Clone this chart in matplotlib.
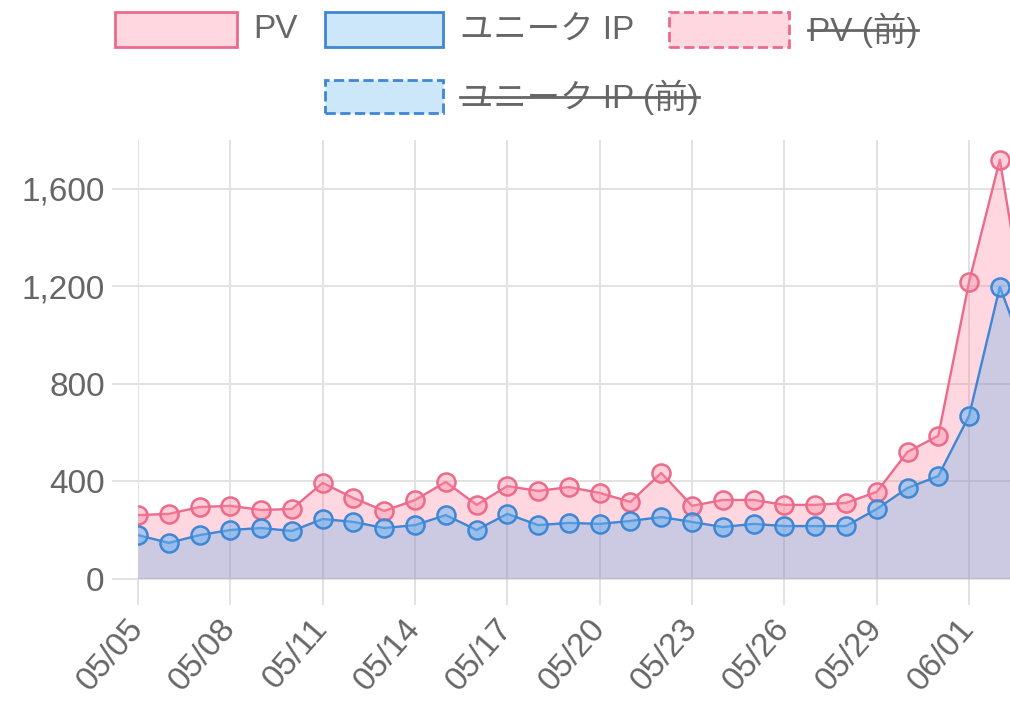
import numpy as np
import matplotlib
matplotlib.use("Agg")
import matplotlib.pyplot as plt
from matplotlib.patches import Rectangle
from matplotlib.lines import Line2D

# categories (05/05 .. 06/03)
dates = ["05/05", "05/06", "05/07", "05/08", "05/09", "05/10", "05/11", "05/12",
         "05/13", "05/14", "05/15", "05/16", "05/17", "05/18", "05/19", "05/20",
         "05/21", "05/22", "05/23", "05/24", "05/25", "05/26", "05/27", "05/28",
         "05/29", "05/30", "05/31", "06/01", "06/02", "06/03"]

# series values
pv = [262, 267, 295, 300, 283, 287, 394, 332, 279, 324, 398, 304, 381, 361, 377,
      353, 316, 435, 300, 324, 324, 304, 304, 312, 357, 521, 587, 1218, 1719, 950]
unique_ip = [180, 148, 180, 201, 209, 197, 246, 234, 209, 221, 262, 201, 267, 221,
             230, 226, 238, 254, 234, 213, 226, 217, 217, 217, 287, 373, 422, 669,
             1198, 860]

y_ticks = [0, 400, 800, 1200, 1600]
legend_labels = ["PV", "ユニーク IP", "PV (前)", "ユニーク IP (前)"]

W, H = 1010, 702
FONT = ["Liberation Sans", "Noto Sans CJK JP", "DejaVu Sans"]
plt.rcParams["font.family"] = FONT

pink = (255 / 255, 99 / 255, 132 / 255)
pink_line = "#ec6a8a"
blue = (54 / 255, 162 / 255, 235 / 255)
blue_line = "#3f86d4"
text_gray = "#666666"


def px(x, y):
    # pixel (from top-left) -> figure fraction
    return x / W, 1 - y / H


fig = plt.figure(figsize=(W / 100, H / 100), dpi=100)

# plot area: 05/05 at x=138, y=0 at 579, y=1800 at 140; extends past right edge
x0, dx = 138, 30.78
n = len(dates)
left, bottom = px(x0, 579)
ax_w = (n - 1) * dx / W
ax_h = (579 - 140) / H
ax = fig.add_axes([left, bottom, ax_w, ax_h])

x = np.arange(n)
ax.fill_between(x, pv, 0, color=pink, alpha=0.25, lw=0, zorder=1)
ax.fill_between(x, unique_ip, 0, color=blue, alpha=0.25, lw=0, zorder=2)
ax.plot(x, pv, color=pink_line, lw=1.7, marker="o", ms=13, mew=1.8,
        mfc=(1, 0.55, 0.65, 0.4), mec=pink_line, zorder=4)
ax.plot(x, unique_ip, color=blue_line, lw=1.7, marker="o", ms=13, mew=1.8,
        mfc=(0.4, 0.7, 0.95, 0.5), mec=blue_line, zorder=5)

ax.set_xlim(0, n - 1)
ax.set_ylim(0, 1800)
ax.set_xticks(x[::3])
ax.set_xticklabels(dates[::3], rotation=49, ha="right", va="center",
                   rotation_mode="anchor")
ax.set_yticks(y_ticks)
ax.set_yticklabels([f"{v:,}" for v in y_ticks])

ax.grid(True, color="#e2e2e2", lw=1.4, zorder=0)
ax.set_axisbelow(True)
for s in ax.spines.values():
    s.set_visible(False)
ax.axhline(0, color="#bdbdc4", lw=1.6, zorder=3)
ax.tick_params(axis="both", colors="#e2e2e2", labelcolor=text_gray,
               labelsize=24, length=19, width=1.4)
ax.tick_params(axis="y", pad=5)
ax.tick_params(axis="x", pad=13)
ax.patch.set_alpha(0)

# legend drawn by hand, chart.js style
entries = [
    (legend_labels[0], (115, 12, 122, 35), pink, pink_line, "-", False, 253, 30),
    (legend_labels[1], (325, 12, 118, 35), blue, blue_line, "-", False, 460, 30),
    (legend_labels[2], (669, 12, 120, 35), pink, pink_line, "--", True, 808, 30),
    (legend_labels[3], (325, 80, 118, 33), blue, blue_line, "--", True, 460, 97),
]
renderer = fig.canvas.get_renderer()
for label, (bx, by, bw, bh), fc, ec, ls, hidden, tx, ty in entries:
    fx, fy = px(bx, by + bh)
    fig.patches.append(Rectangle((fx, fy), bw / W, bh / H, transform=fig.transFigure,
                                 facecolor=(*fc, 0.25), edgecolor=ec, lw=2,
                                 linestyle=ls, figure=fig))
    t = fig.text(*px(tx, ty), label, fontsize=24, color=text_gray,
                 ha="left", va="center")
    if hidden:
        bb = t.get_window_extent(renderer)
        sx0, sx1 = bb.x0 / W, bb.x1 / W
        sy = 1 - ty / H
        fig.lines.append(Line2D([sx0, sx1], [sy, sy], transform=fig.transFigure,
                                color=text_gray, lw=2, figure=fig))

fig.savefig("out.png", dpi=100)
